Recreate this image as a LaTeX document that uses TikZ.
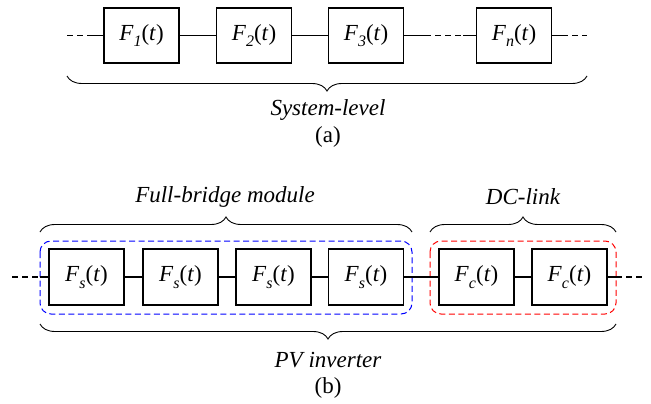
\documentclass[tikz,border=0pt]{standalone}
\usepackage{fontspec}
\setmainfont{Liberation Serif}
\usetikzlibrary{decorations.pathreplacing}
\newcommand\Ff[1]{\textit{F}\raisebox{-0.28em}{\fontsize{16}{16}\selectfont\textit{#1}}(\textit{t})}
\tikzset{
  fbox/.style={draw, line width=1.5pt, minimum width=75pt, minimum height=55pt, inner sep=0pt, font=\fontsize{23}{26}\selectfont},
  wire/.style={line width=1.3pt},
  dwire/.style={line width=1.3pt, dash pattern=on 6pt off 4pt},
  lbl/.style={font=\fontsize{23}{26}\selectfont\itshape, inner sep=0pt},
  captext/.style={font=\fontsize{23}{26}\selectfont, inner sep=0pt},
  brc/.style={draw, line width=0.9pt, decorate, decoration={brace, amplitude=15pt}},
  grp/.style={line width=1pt, dash pattern=on 6pt off 3.5pt, rounded corners=11pt}
}
\begin{document}
\begin{tikzpicture}[x=1pt,y=-1pt]
\useasboundingbox (0,0) rectangle (651,404);
% (a)
\node[fbox] (a1) at (141.5,35.5) {\Ff{1}};
\node[fbox] (a2) at (254,35.5) {\Ff{2}};
\node[fbox] (a3) at (366,35.5) {\Ff{3}};
\node[fbox] (an) at (514,35.5) {\Ff{n}};
\coordinate (aL0) at (67,35.5);
\coordinate (aL1) at (93,35.5);
\coordinate (aM0) at (425,35.5);
\coordinate (aM1) at (463,35.5);
\coordinate (aR0) at (562,35.5);
\coordinate (aR1) at (587,35.5);
\draw[dwire] (aL0) -- (aL1);
\draw[wire] (aL1) -- (a1.west);
\draw[wire] (a1) -- (a2);
\draw[wire] (a2) -- (a3);
\draw[wire] (a3.east) -- (aM0);
\draw[dwire] (aM0) -- (aM1);
\draw[wire] (aM1) -- (an.west);
\draw[wire] (an.east) -- (aR0);
\draw[dwire] (aR0) -- (aR1);
\coordinate (abR) at (587,76);
\coordinate (abL) at (67,76);
\draw[brc] (abR) -- (abL);
\node[lbl] (sys) at (328,110) {System-level};
\node[captext] (capa) at (328,137) {(a)};
% (b)
\draw[grp, blue] (40,241) rectangle (412,314);
\draw[grp, red] (430,241) rectangle (616,314);
\node[fbox,minimum height=56pt] (s1) at (86.5,277) {\Ff{s}};
\node[fbox,minimum height=56pt] (s2) at (180.5,277) {\Ff{s}};
\node[fbox,minimum height=56pt] (s3) at (273.5,277) {\Ff{s}};
\node[fbox,minimum height=56pt] (s4) at (366,277) {\Ff{s}};
\node[fbox,minimum height=56pt] (c1) at (476.5,277) {\Ff{c}};
\node[fbox,minimum height=56pt] (c2) at (569.5,277) {\Ff{c}};
\coordinate (bL0) at (12,277);
\coordinate (bL1) at (40,277);
\coordinate (bR0) at (616,277);
\coordinate (bR1) at (643,277);
\draw[dwire] (bL0) -- (bL1);
\draw[wire] (bL1) -- (s1.west);
\draw[wire] (s1) -- (s2);
\draw[wire] (s2) -- (s3);
\draw[wire] (s3) -- (s4);
\draw[wire] (s4) -- (c1);
\draw[wire] (c1) -- (c2);
\draw[wire] (c2.east) -- (bR0);
\draw[dwire] (bR0) -- (bR1);
\coordinate (fbL) at (40,232);
\coordinate (fbR) at (412,232);
\coordinate (dcL) at (430,232);
\coordinate (dcR) at (616,232);
\draw[brc] (fbL) -- (fbR);
\draw[brc] (dcL) -- (dcR);
\coordinate (pvR) at (616,324);
\coordinate (pvL) at (40,324);
\draw[brc] (pvR) -- (pvL);
\node[lbl] (fb) at (225,197) {Full-bridge module};
\node[lbl] (dc) at (523,197) {DC-link};
\node[lbl] (pv) at (328,360) {PV inverter};
\node[captext] (capb) at (328,388) {(b)};
\end{tikzpicture}
\end{document}
